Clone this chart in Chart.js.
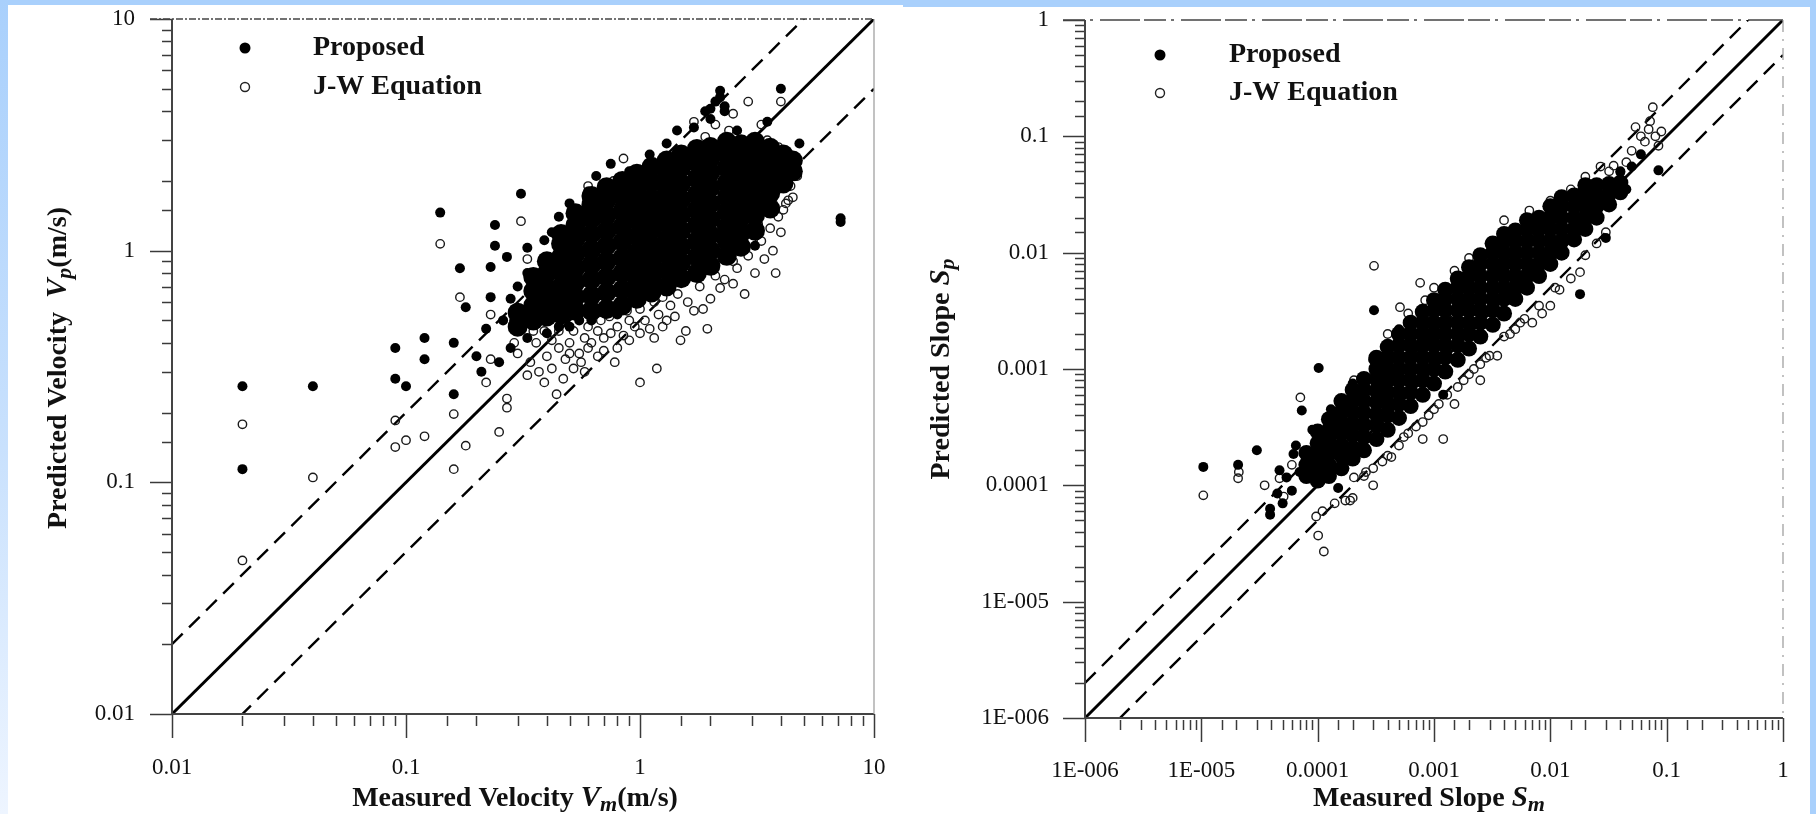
<!DOCTYPE html>
<html>
<head>
<meta charset="utf-8">
<script src="https://cdn.jsdelivr.net/npm/chart.js@4.4.1/dist/chart.umd.min.js"></script>
<style>
  html, body { margin: 0; padding: 0; }
  body { width: 1816px; height: 814px; background: #a9d0fc; position: relative; overflow: hidden; }
  #strip { position: absolute; left: 0; top: 0; width: 8px; height: 814px; background: linear-gradient(to bottom, #a9d0fc, #c9e1fd 55%, #eef5ff); }
  .panel { position: absolute; background: #fff; }
  #p1 { left: 8px; top: 5px; width: 895px; height: 809px; }
  #p2 { left: 903px; top: 7px; width: 907px; height: 807px; }
</style>
</head>
<body>
<div id="strip"></div>
<div class="panel" id="p1"><canvas id="c1" width="895" height="809"></canvas></div>
<div class="panel" id="p2"><canvas id="c2" width="907" height="807"></canvas></div>
<script>
// ---------- tick labels ----------
var velTickVals = [0.01, 0.1, 1, 10];
var velTickText = ['0.01', '0.1', '1', '10'];
var slopeTickVals = [1e-6, 1e-5, 1e-4, 1e-3, 0.01, 0.1, 1];
var slopeTickText = ['1E-006', '1E-005', '0.0001', '0.001', '0.01', '0.1', '1'];

// reference lines y = r * x
var lineRatios = [1, 2, 0.5];

// ---------- velocity plot ----------
// Proposed (filled) - scattered points
var velProposed = [
  [0.02,0.26],[0.02,0.114],[0.04,0.26],[0.09,0.38],[0.09,0.28],[0.10,0.26],[0.12,0.42],[0.12,0.34],
  [0.14,1.46],[0.16,0.40],[0.16,0.24],[0.17,0.84],[0.18,0.57],[0.22,0.46],[0.23,0.85],[0.23,0.63],
  [0.24,1.29],[0.24,1.05],[0.26,0.50],[0.27,0.94],[0.31,1.76],[0.33,1.03],[0.39,1.11],[0.75,2.37],
  [1.44,3.3],[2.2,4.9],[4.0,5.0],[4.8,2.9],[3.2,1.18],[3.1,1.05],[7.2,1.33],[7.2,1.38],
  [0.28,0.62],[0.3,0.7],[0.35,0.55],[0.33,0.8],[0.42,1.2],[0.45,1.4],[0.5,1.6],[0.6,1.8],
  [0.65,2.1],[0.9,2.2],[1.1,2.6],[1.3,2.9],[1.7,3.4],[2.0,3.7],[2.3,4.2],[2.6,3.3],
  [3.5,3.6],[4.2,2.4],[2.1,4.4],[1.9,4.0],[0.55,0.5],[0.45,0.47],[0.38,0.5],[0.3,0.45],
  [0.28,0.38],[0.25,0.33],[0.2,0.35],[0.21,0.3],[2.2,4.6],[2.3,4.0],[2.0,4.1],[0.4,0.44],
  [0.5,0.47],[0.62,0.5],[0.33,0.42],[0.29,0.5],[0.8,0.53]
];
// Proposed - solid core of the cloud, by columns
var velCoreX = [0.3, 0.35, 0.4, 0.46, 0.53, 0.62, 0.72, 0.84, 0.97, 1.12, 1.3, 1.5, 1.75, 2.0, 2.35, 2.7, 3.1, 3.6, 4.1, 4.5];
var velCoreY = [
  [0.47, 0.54],
  [0.5, 0.58, 0.67, 0.77],
  [0.52, 0.6, 0.69, 0.8, 0.9],
  [0.53, 0.61, 0.7, 0.81, 0.94, 1.07, 1.18],
  [0.55, 0.63, 0.73, 0.84, 0.97, 1.12, 1.29, 1.45],
  [0.55, 0.64, 0.75, 0.87, 1.01, 1.18, 1.37, 1.58, 1.72],
  [0.56, 0.66, 0.77, 0.9, 1.05, 1.22, 1.42, 1.65, 1.88],
  [0.58, 0.68, 0.8, 0.93, 1.09, 1.27, 1.48, 1.73, 2.0],
  [0.62, 0.72, 0.84, 0.98, 1.15, 1.35, 1.58, 1.85, 2.15],
  [0.66, 0.77, 0.9, 1.05, 1.23, 1.44, 1.68, 1.97, 2.3],
  [0.7, 0.82, 0.96, 1.12, 1.31, 1.53, 1.79, 2.1, 2.45],
  [0.76, 0.89, 1.04, 1.22, 1.43, 1.67, 1.95, 2.28, 2.6],
  [0.8, 0.94, 1.1, 1.29, 1.5, 1.75, 2.05, 2.4, 2.75],
  [0.86, 1.0, 1.17, 1.37, 1.6, 1.87, 2.18, 2.5, 2.8],
  [0.95, 1.1, 1.27, 1.47, 1.7, 1.97, 2.28, 2.62, 2.95],
  [1.04, 1.2, 1.39, 1.61, 1.87, 2.17, 2.52, 2.88],
  [1.22, 1.42, 1.65, 1.92, 2.23, 2.58, 2.95],
  [1.52, 1.77, 2.06, 2.4, 2.78],
  [1.95, 2.26, 2.6],
  [2.2, 2.45]
];
// J-W Equation (open)
var velJW = [
  [0.02,0.178],[0.02,0.046],[0.04,0.105],[0.09,0.185],[0.09,0.142],[0.10,0.152],[0.12,0.158],[0.14,1.07],
  [0.16,0.197],[0.16,0.114],[0.17,0.63],[0.18,0.144],[0.23,0.53],[0.23,0.34],[0.25,0.165],[0.27,0.21],
  [0.31,1.34],[0.33,0.92],[0.22,0.27],[0.27,0.23],[0.33,0.29],[0.39,0.27],[0.44,0.24],[0.52,0.31],
  [0.6,0.38],[1.0,0.27],[1.18,0.31],[1.49,0.41],[1.57,0.45],[1.94,0.46],[1.86,0.56],[1.41,0.52],
  [2.2,0.69],[2.8,0.65],[3.1,0.8],[3.8,0.8],[3.4,0.92],[2.6,0.84],[4.5,1.7],[4.3,1.65],
  [4.2,1.6],[4.7,2.1],[3.9,2.8],[4.0,4.4],[2.9,4.4],[2.4,3.3],[1.9,3.1],[0.77,2.0],
  [0.3,0.36],[0.34,0.33],[0.36,0.4],[0.4,0.35],[0.42,0.31],[0.45,0.38],[0.48,0.34],[0.5,0.4],
  [0.55,0.36],[0.58,0.42],[0.62,0.4],[0.66,0.45],[0.7,0.42],[0.75,0.44],[0.8,0.47],[0.85,0.43],
  [0.9,0.5],[0.95,0.47],[1.05,0.5],[1.1,0.46],[1.2,0.53],[1.3,0.5],[1.35,0.58],[1.6,0.6],
  [1.7,0.55],[2.0,0.62],[2.3,0.75],[2.5,0.72],[0.37,0.3],[0.47,0.28],[0.56,0.33],[0.66,0.35],
  [0.8,0.38],[0.45,0.45],[0.35,0.45],[0.29,0.4],[3.3,1.1],[3.6,1.25],[3.9,1.4],[4.1,1.5],
  [3.7,1.0],[4.4,1.9],[4.6,2.3],[3.5,1.5],[4.0,1.2],[3.2,1.3],[1.7,3.6],[2.1,3.5],
  [2.5,3.9],[3.3,3.5],[0.6,1.9],[0.85,2.5],[3.5,3.0],
  [0.52,0.45],[0.6,0.47],[0.68,0.5],[0.74,0.52],[0.88,0.55],[1.0,0.56],[1.15,0.6],[1.25,0.63],
  [1.45,0.65],[1.8,0.7],[2.1,0.78],[0.7,0.37],[0.9,0.41],[1.0,0.44],[1.15,0.42],[1.25,0.47],
  [0.42,0.41],[0.39,0.45],[0.5,0.36],[0.58,0.3],[0.78,0.33],[2.5,0.9],[2.9,0.95],[3.0,1.1]
];

// ---------- slope plot ----------
var slopeProposed = [
  [1.04e-5,1.44e-4],[2.07e-5,1.5e-4],[3.0e-5,2.0e-4],[6.2e-5,1.86e-4],[4.7e-5,1.35e-4],[3.9e-5,6.3e-5],
  [3.9e-5,5.6e-5],[4.5e-5,8.5e-5],[1.5e-4,9.5e-5],[5.4e-5,1.17e-4],[7.3e-5,4.4e-4],[1.02e-4,1.02e-3],
  [3.05e-4,3.2e-3],[0.085,0.051],[0.03,0.0134],[0.018,0.0044],[0.05,0.055],[0.06,0.07],[0.04,0.05],
  [0.045,0.035],[6e-5,9e-5],[7e-5,1.3e-4],[5e-5,7e-5],[1.2e-3,6e-4],[6.5e-5,2.2e-4],[9e-5,3e-4],
  [1.3e-4,4.5e-4],[2e-4,7.5e-4],[3e-4,1.2e-3],[5e-4,2.2e-3]
];
var slopeCoreX = [8e-5, 1e-4, 1.25e-4, 1.6e-4, 2e-4, 2.5e-4, 3.2e-4, 4e-4, 5e-4, 6.3e-4, 8e-4, 1e-3, 1.25e-3, 1.6e-3,
  2e-3, 2.5e-3, 3.2e-3, 4e-3, 5e-3, 6.3e-3, 8e-3, 0.01, 0.0125, 0.016, 0.02, 0.025, 0.032, 0.04];
var slopeCoreY = [
  [1.2e-4, 1.5e-4, 1.9e-4],
  [1.1e-4, 1.4e-4, 1.8e-4, 2.3e-4, 2.9e-4],
  [1.2e-4, 1.5e-4, 1.9e-4, 2.4e-4, 3.0e-4, 3.7e-4],
  [1.4e-4, 1.8e-4, 2.2e-4, 2.8e-4, 3.5e-4, 4.3e-4, 5.3e-4],
  [1.7e-4, 2.1e-4, 2.7e-4, 3.4e-4, 4.3e-4, 5.4e-4, 6.6e-4],
  [2.0e-4, 2.6e-4, 3.3e-4, 4.2e-4, 5.3e-4, 6.6e-4, 8.2e-4],
  [2.5e-4, 3.3e-4, 4.1e-4, 5.2e-4, 6.5e-4, 8.2e-4, 1.0e-3, 1.25e-3],
  [3.0e-4, 4.0e-4, 5.0e-4, 6.3e-4, 8.0e-4, 1.0e-3, 1.25e-3, 1.55e-3],
  [3.8e-4, 5.0e-4, 6.3e-4, 8.0e-4, 1.0e-3, 1.26e-3, 1.6e-3, 2.0e-3],
  [4.8e-4, 6.3e-4, 8.0e-4, 1.0e-3, 1.26e-3, 1.6e-3, 2.0e-3, 2.5e-3],
  [6.0e-4, 8.0e-4, 1.0e-3, 1.26e-3, 1.6e-3, 2.0e-3, 2.5e-3, 3.1e-3],
  [7.5e-4, 1.0e-3, 1.26e-3, 1.6e-3, 2.0e-3, 2.5e-3, 3.2e-3, 3.9e-3],
  [9.5e-4, 1.26e-3, 1.6e-3, 2.0e-3, 2.5e-3, 3.2e-3, 4.0e-3, 4.8e-3],
  [1.2e-3, 1.6e-3, 2.0e-3, 2.5e-3, 3.2e-3, 4.0e-3, 5.0e-3, 6.0e-3],
  [1.5e-3, 2.0e-3, 2.5e-3, 3.2e-3, 4.0e-3, 5.0e-3, 6.3e-3, 7.5e-3],
  [1.9e-3, 2.5e-3, 3.2e-3, 4.0e-3, 5.0e-3, 6.3e-3, 8.0e-3, 9.5e-3],
  [2.4e-3, 3.2e-3, 4.0e-3, 5.0e-3, 6.3e-3, 8.0e-3, 1.0e-2, 1.2e-2],
  [3.0e-3, 4.0e-3, 5.0e-3, 6.3e-3, 8.0e-3, 1.0e-2, 1.25e-2, 1.45e-2],
  [4.0e-3, 5.0e-3, 6.3e-3, 8.0e-3, 1.0e-2, 1.26e-2, 1.55e-2],
  [5.0e-3, 6.3e-3, 8.0e-3, 1.0e-2, 1.26e-2, 1.6e-2, 1.9e-2],
  [6.3e-3, 8.0e-3, 1.0e-2, 1.26e-2, 1.6e-2, 2.0e-2],
  [8.0e-3, 1.0e-2, 1.26e-2, 1.6e-2, 2.0e-2, 2.5e-2],
  [1.0e-2, 1.26e-2, 1.6e-2, 2.0e-2, 2.5e-2, 3.0e-2],
  [1.3e-2, 1.6e-2, 2.0e-2, 2.5e-2, 3.1e-2],
  [1.6e-2, 2.0e-2, 2.5e-2, 3.1e-2, 3.8e-2],
  [2.0e-2, 2.5e-2, 3.1e-2, 3.8e-2],
  [2.6e-2, 3.2e-2, 3.9e-2],
  [3.3e-2, 4.0e-2]
];
var slopeJW = [
  [1.04e-5,8.2e-5],[2.07e-5,1.15e-4],[2.1e-5,1.3e-4],[4.7e-5,1.15e-4],[5.1e-5,8e-5],[9.7e-5,5.4e-5],
  [1.01e-4,3.7e-5],[1.13e-4,2.7e-5],[1.73e-4,7.4e-5],[1.9e-4,7.4e-5],[2.0e-4,7.8e-5],[3.0e-4,1.0e-4],
  [2.05e-4,1.17e-4],[8e-4,2.5e-4],[1.2e-3,2.5e-4],[4.3e-4,1.75e-4],[7.1e-5,5.7e-4],[2.05e-4,8e-4],
  [3.05e-4,7.7e-3],[5.1e-4,3.4e-3],[7.6e-4,5.5e-3],[8.4e-4,3.9e-3],[4.0e-3,1.9e-2],[6.6e-3,2.3e-2],
  [0.076,0.178],[0.054,0.12],[0.06,0.1],[0.07,0.115],[0.085,0.083],[0.065,0.09],[0.072,0.135],
  [0.027,0.055],[0.032,0.05],[0.04,0.049],[0.035,0.056],[0.018,0.0068],[0.0085,0.003],[0.012,0.0048],
  [0.015,0.006],[0.02,0.0095],[0.025,0.012],[0.03,0.015],[0.006,0.0027],[0.005,0.0022],[0.004,0.0019],
  [0.003,0.0013],[0.0025,0.0011],[0.002,0.0009],[0.0016,0.0007],[0.0013,0.0006],[0.001,0.00045],
  [0.0008,0.00035],[0.0006,0.00028],[0.0005,0.00022],[0.0004,0.00018],[0.0003,0.00014],[0.00025,0.00012],
  [6e-5,1.5e-4],[3.5e-5,1.0e-4],[5.5e-4,2.6e-4],[1.5e-3,5e-4],[2.5e-3,8e-4],[3.5e-3,1.3e-3],
  [7e-3,2.5e-3],[0.01,3.5e-3],[0.045,0.06],[0.05,0.075],[0.08,0.1],[0.09,0.11],[0.02,0.045],
  [0.015,0.035],[0.01,0.028],[1.5e-3,7e-3],[1e-3,5e-3],[6e-4,3e-3],[3e-3,1.2e-2],[2e-3,9e-3],[4e-4,2e-3],
  [1.1e-4,6e-5],[1.4e-4,7e-5],[2.6e-4,1.3e-4],[3.6e-4,1.6e-4],[7e-4,3.2e-4],[9e-4,4e-4],[1.1e-3,5e-4],
  [1.8e-3,8e-4],[2.2e-3,1e-3],[2.8e-3,1.25e-3],[4.5e-3,2e-3],[5.5e-3,2.5e-3],[8e-3,3.5e-3],[0.011,0.005]
];

Chart.defaults.font.family = "'Liberation Serif', 'Times New Roman', serif";
Chart.defaults.color = '#111';

function pts(arr) { return arr.map(function (p) { return { x: p[0], y: p[1] }; }); }
function corePts(xs, ys) {
  var out = [];
  xs.forEach(function (x, i) { ys[i].forEach(function (y) { out.push({ x: x, y: y }); }); });
  return out;
}
function isDecade(v) { var l = Math.log10(v); return Math.abs(l - Math.round(l)) < 1e-6; }

function refLines(min, max) {
  return lineRatios.map(function (r) {
    return {
      data: [{ x: min, y: min * r }, { x: max, y: max * r }],
      showLine: true, pointRadius: 0, borderColor: '#000',
      borderWidth: r === 1 ? 3 : 2.4, borderDash: r === 1 ? [] : [15, 9]
    };
  });
}

function richText(ctx, segs, cx, cy, rot) {
  ctx.save();
  ctx.translate(cx, cy);
  if (rot) ctx.rotate(-Math.PI / 2);
  var w = 0;
  segs.forEach(function (s) { ctx.font = s.f; w += ctx.measureText(s.t).width; });
  var x0 = -w / 2;
  ctx.fillStyle = '#111';
  ctx.textBaseline = 'alphabetic';
  segs.forEach(function (s) { ctx.font = s.f; ctx.fillText(s.t, x0, s.dy || 0); x0 += ctx.measureText(s.t).width; });
  ctx.restore();
}

var decor = {
  id: 'decor',
  afterDraw: function (chart, args, o) {
    var ctx = chart.ctx, a = chart.chartArea, xs = chart.scales.x, ys = chart.scales.y;
    ctx.save();
    ctx.strokeStyle = '#3a3a3a';
    ctx.lineWidth = 1.5;
    xs.ticks.forEach(function (t) {
      var px = Math.round(xs.getPixelForValue(t.value)) + 0.5, big = isDecade(t.value);
      ctx.beginPath(); ctx.moveTo(px, a.bottom + (big ? 0 : 2)); ctx.lineTo(px, a.bottom + (big ? 24 : 12)); ctx.stroke();
    });
    ys.ticks.forEach(function (t) {
      var py = Math.round(ys.getPixelForValue(t.value)) + 0.5, big = isDecade(t.value);
      ctx.beginPath(); ctx.moveTo(a.left, py); ctx.lineTo(a.left - (big ? 22 : 10), py); ctx.stroke();
    });
    // axes
    ctx.lineWidth = 2;
    ctx.strokeStyle = '#444';
    ctx.beginPath(); ctx.moveTo(a.left, a.top); ctx.lineTo(a.left, a.bottom); ctx.lineTo(a.right, a.bottom); ctx.stroke();
    // top border
    ctx.setLineDash(o.topDash);
    ctx.lineWidth = 1.6;
    ctx.beginPath(); ctx.moveTo(a.left - 22, a.top); ctx.lineTo(a.right, a.top); ctx.stroke();
    // right border
    ctx.setLineDash(o.rightDash);
    ctx.strokeStyle = '#999';
    ctx.lineWidth = 1.2;
    ctx.beginPath(); ctx.moveTo(a.right, a.top); ctx.lineTo(a.right, a.bottom); ctx.stroke();
    ctx.setLineDash([]);
    // legend
    var L = o.legend;
    ctx.fillStyle = '#000';
    ctx.beginPath(); ctx.arc(L.mx, L.y1, 5.5, 0, Math.PI * 2); ctx.fill();
    ctx.strokeStyle = '#222'; ctx.lineWidth = 1.4;
    ctx.beginPath(); ctx.arc(L.mx, L.y2, 4.5, 0, Math.PI * 2); ctx.stroke();
    ctx.font = "bold 28px 'Liberation Serif'";
    ctx.fillStyle = '#111';
    ctx.textBaseline = 'middle';
    ctx.fillText('Proposed', L.tx, L.y1);
    ctx.fillText('J-W Equation', L.tx, L.y2);
    // axis titles
    richText(ctx, o.xTitle, o.xPos[0], o.xPos[1], false);
    richText(ctx, o.yTitle, o.yPos[0], o.yPos[1], true);
    ctx.restore();
  }
};

var B = "bold 28px 'Liberation Serif'", BI = "italic bold 29px 'Liberation Serif'", SUB = "italic bold 22px 'Liberation Serif'";

function makeChart(id, o) {
  var cb = function (v) {
    var i = o.tickVals.findIndex(function (t) { return Math.abs(Math.log10(v) - Math.log10(t)) < 1e-6; });
    return i < 0 ? '' : o.tickText[i];
  };
  var axis = function (min, max, pad, fit) {
    return {
      type: 'logarithmic', min: min, max: max,
      grid: { display: false, drawTicks: false }, border: { display: false },
      ticks: { callback: cb, autoSkip: false, maxRotation: 0, padding: pad, color: '#111', font: { size: 23 } },
      afterFit: fit
    };
  };
  return new Chart(document.getElementById(id), {
    type: 'scatter',
    data: {
      datasets: [
        { data: pts(o.prop), pointRadius: 5, backgroundColor: '#000', borderWidth: 0 },
        { data: corePts(o.coreX, o.coreY), pointRadius: o.coreR, backgroundColor: '#000', borderWidth: 0 },
        { data: pts(o.jw), pointRadius: 4.2, backgroundColor: 'rgba(0,0,0,0)', borderColor: '#1a1a1a', borderWidth: 1.4 }
      ].concat(refLines(o.min, o.max))
    },
    options: {
      responsive: false, animation: false,
      layout: { padding: o.pad },
      plugins: { legend: { display: false }, tooltip: { enabled: false }, decor: o.decor },
      scales: {
        x: axis(o.min, o.max, o.xPad, function (s) { s.height = o.xH; s.paddingLeft = 0; s.paddingRight = 0; }),
        y: axis(o.min, o.max, o.yPad, function (s) { s.width = o.yW; s.paddingTop = 0; s.paddingBottom = 0; })
      }
    },
    plugins: [decor]
  });
}

makeChart('c1', {
  min: 0.01, max: 10, tickVals: velTickVals, tickText: velTickText,
  prop: velProposed, coreX: velCoreX, coreY: velCoreY, coreR: 10, jw: velJW,
  pad: { top: 14, right: 29, left: 0, bottom: 0 }, yW: 164, xH: 100, yPad: 37, xPad: 40,
  decor: {
    topDash: [7, 2, 2, 2], rightDash: [],
    legend: { mx: 237, tx: 305, y1: 43, y2: 82 },
    xTitle: [{ t: 'Measured Velocity ', f: B }, { t: 'V', f: BI }, { t: 'm', f: SUB, dy: 5 }, { t: '(m/s)', f: B }],
    xPos: [507, 801],
    yTitle: [{ t: 'Predicted Velocity  ', f: B }, { t: 'V', f: BI }, { t: 'p', f: SUB, dy: 5 }, { t: '(m/s)', f: B }],
    yPos: [58, 363]
  }
});

makeChart('c2', {
  min: 1e-6, max: 1, tickVals: slopeTickVals, tickText: slopeTickText,
  prop: slopeProposed, coreX: slopeCoreX, coreY: slopeCoreY, coreR: 8, jw: slopeJW,
  pad: { top: 13, right: 27, left: 0, bottom: 0 }, yW: 182, xH: 96, yPad: 36, xPad: 39,
  decor: {
    topDash: [22, 5, 3, 7, 40, 4], rightDash: [12, 7, 2, 7],
    legend: { mx: 257, tx: 326, y1: 48, y2: 86 },
    xTitle: [{ t: 'Measured Slope ', f: B }, { t: 'S', f: BI }, { t: 'm', f: SUB, dy: 5 }],
    xPos: [526, 799],
    yTitle: [{ t: 'Predicted Slope ', f: B }, { t: 'S', f: BI }, { t: 'p', f: SUB, dy: 5 }],
    yPos: [46, 362]
  }
});
</script>
</body>
</html>
